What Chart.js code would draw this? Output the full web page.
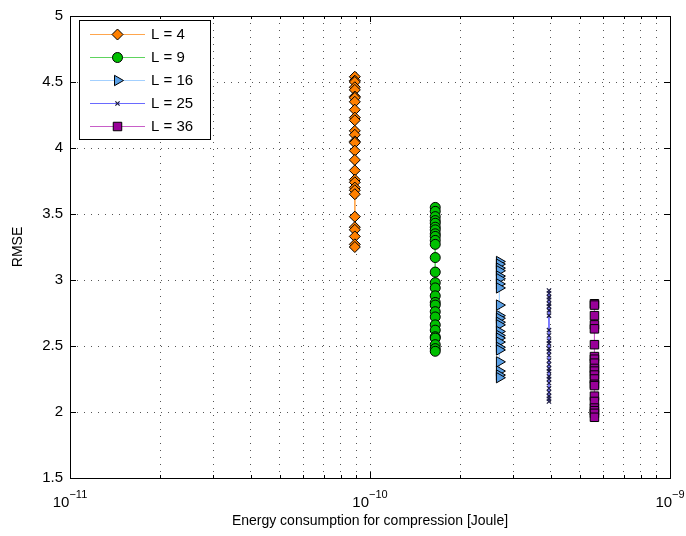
<!DOCTYPE html>
<html>
<head>
<meta charset="utf-8">
<title>RMSE vs energy consumption</title>
<script src="https://cdn.jsdelivr.net/npm/chart.js"></script>
<style>
  html, body { margin: 0; padding: 0; background: #ffffff; }
</style>
</head>
<body>
<canvas id="rmseChart" width="686" height="536"></canvas>
<script>
// ---- data ----
const seriesLabels = ['L = 4', 'L = 9', 'L = 16', 'L = 25', 'L = 36'];
const energyX = [8.9e-11, 1.65e-10, 2.7e-10, 3.95e-10, 5.6e-10];

const rmseL4 = [4.54, 4.51, 4.50, 4.46, 4.44, 4.39, 4.38, 4.35, 4.29, 4.23, 4.21, 4.13, 4.10,
                4.05, 4.04, 3.98, 3.91, 3.83, 3.76, 3.74, 3.70, 3.68, 3.65, 3.48, 3.40, 3.38,
                3.33, 3.27, 3.25];
const rmseL9 = [3.55, 3.52, 3.48, 3.45, 3.43, 3.40, 3.38, 3.35, 3.33, 3.30, 3.27, 3.17, 3.06,
                2.98, 2.94, 2.88, 2.83, 2.81, 2.76, 2.72, 2.66, 2.62, 2.57, 2.56, 2.51, 2.48, 2.46];
const rmseL16 = [3.14, 3.12, 3.09, 3.07, 3.03, 3.01, 2.97, 2.94, 2.81, 2.73, 2.71, 2.68, 2.66,
                 2.61, 2.58, 2.56, 2.53, 2.49, 2.47, 2.38, 2.31, 2.28, 2.26];
const rmseL25 = [2.92, 2.90, 2.87, 2.85, 2.82, 2.80, 2.77, 2.73, 2.62, 2.58, 2.54, 2.52, 2.48,
                 2.46, 2.43, 2.39, 2.36, 2.33, 2.31, 2.27, 2.25, 2.22, 2.18, 2.15, 2.12, 2.10, 2.08];
const rmseL36 = [2.82, 2.81, 2.73, 2.66, 2.63, 2.51, 2.42, 2.40, 2.37, 2.33, 2.31, 2.28, 2.25,
                 2.21, 2.20, 2.12, 2.08, 2.03, 2.01, 1.99, 1.96];

const xTickValues = [1e-11, 2e-11, 3e-11, 4e-11, 5e-11, 6e-11, 7e-11, 8e-11, 9e-11,
                     1e-10, 2e-10, 3e-10, 4e-10, 5e-10, 6e-10, 7e-10, 8e-10, 9e-10, 1e-9];
const xMajorValues = [1e-11, 1e-10, 1e-9];
const xMajorExponents = ['\u221211', '\u221210', '\u22129'];
const yTickValues = [1.5, 2, 2.5, 3, 3.5, 4, 4.5, 5];
const yTickLabels = ['1.5', '2', '2.5', '3', '3.5', '4', '4.5', '5'];

// ---- styles ----
const FONT = "'Liberation Sans', Arial, Helvetica, sans-serif";
const lineColors = ['#ffa64d', '#5ed45e', '#a3d0ff', '#6a6aff', '#c85ec8'];
const markerFill = ['#ff8000', '#00c000', '#5aa0e6', '#1a1a40', '#990099'];
const markerStyle = ['rectRot', 'circle', 'triangle', 'crossRot', 'rect'];
const markerRadius = [5.5, 5, 6, 3, 6];
const markerRotation = [0, 0, 90, 0, 0];
const seriesY = [rmseL4, rmseL9, rmseL16, rmseL25, rmseL36];

const datasets = seriesY.map((ys, i) => ({
    label: seriesLabels[i],
    data: ys.map(y => ({ x: energyX[i], y: y })),
    showLine: true,
    borderColor: lineColors[i],
    borderWidth: 1,
    pointStyle: markerStyle[i],
    pointRadius: markerRadius[i],
    pointRotation: markerRotation[i],
    pointBackgroundColor: markerFill[i],
    pointBorderColor: i === 3 ? '#1a1a40' : '#000000',
    pointBorderWidth: i === 3 ? 1.2 : 1,
    pointHoverRadius: markerRadius[i]
}));

// frame, inward ticks, power-of-ten labels and the boxed legend
const matlabLook = {
    id: 'matlabLook',
    afterDraw(chart) {
        const ctx = chart.ctx;
        const a = chart.chartArea;
        const xs = chart.scales.x, ys = chart.scales.y;
        ctx.save();

        // inward ticks
        ctx.strokeStyle = '#000';
        ctx.lineWidth = 1;
        ctx.beginPath();
        xTickValues.forEach(v => {
            const px = Math.round(xs.getPixelForValue(v)) + 0.5;
            const len = xMajorValues.includes(v) ? 6 : 3;
            ctx.moveTo(px, a.bottom); ctx.lineTo(px, a.bottom - len);
            ctx.moveTo(px, a.top); ctx.lineTo(px, a.top + len);
        });
        yTickValues.forEach(v => {
            const py = Math.round(ys.getPixelForValue(v)) + 0.5;
            ctx.moveTo(a.left, py); ctx.lineTo(a.left + 6, py);
            ctx.moveTo(a.right, py); ctx.lineTo(a.right - 6, py);
        });
        ctx.stroke();

        // box
        ctx.strokeRect(Math.round(a.left) + 0.5, Math.round(a.top) + 0.5,
                       Math.round(a.right - a.left), Math.round(a.bottom - a.top));

        // x labels 10^n
        ctx.fillStyle = '#000';
        ctx.textBaseline = 'alphabetic';
        xMajorValues.forEach((v, i) => {
            const px = xs.getPixelForValue(v);
            ctx.font = '15px ' + FONT;
            const wBase = ctx.measureText('10').width;
            ctx.font = '11px ' + FONT;
            const wExp = ctx.measureText(xMajorExponents[i]).width;
            const left = px - (wBase + wExp) / 2;
            ctx.font = '15px ' + FONT;
            ctx.textAlign = 'left';
            ctx.fillText('10', left, a.bottom + 29);
            ctx.font = '11px ' + FONT;
            ctx.fillText(xMajorExponents[i], left + wBase, a.bottom + 20);
        });

        // legend
        const lx = 79.5, ly = 20.5, lw = 131, lh = 119;
        ctx.fillStyle = '#fff';
        ctx.fillRect(lx, ly, lw, lh);
        ctx.strokeStyle = '#000';
        ctx.strokeRect(lx, ly, lw, lh);
        chart.data.datasets.forEach((ds, i) => {
            const y = 34 + i * 23;
            ctx.strokeStyle = ds.borderColor;
            ctx.lineWidth = 1;
            ctx.beginPath();
            ctx.moveTo(90, y + 0.5); ctx.lineTo(145, y + 0.5);
            ctx.stroke();
            ctx.fillStyle = ds.pointBackgroundColor;
            ctx.strokeStyle = ds.pointBorderColor;
            ctx.lineWidth = ds.pointBorderWidth;
            Chart.helpers.drawPoint(ctx, {
                pointStyle: ds.pointStyle,
                rotation: ds.pointRotation,
                radius: ds.pointRadius,
                borderWidth: ds.pointBorderWidth
            }, 117.5, y + 0.5);
            ctx.fillStyle = '#000';
            ctx.font = '15px ' + FONT;
            ctx.textAlign = 'left';
            ctx.textBaseline = 'middle';
            ctx.fillText(ds.label, 151, y + 1);
        });
        ctx.restore();
    }
};

const gridDash = [1, 6];

new Chart(document.getElementById('rmseChart').getContext('2d'), {
    type: 'scatter',
    data: { datasets: datasets },
    options: {
        responsive: false,
        animation: false,
        layout: { padding: { top: 10, right: 16, left: 0, bottom: 0 } },
        plugins: {
            legend: { display: false },
            tooltip: { enabled: false }
        },
        scales: {
            x: {
                type: 'logarithmic',
                min: 1e-11,
                max: 1e-9,
                afterBuildTicks: scale => { scale.ticks = xTickValues.map(v => ({ value: v })); },
                afterFit: scale => { scale.height = 58; },
                ticks: { callback: () => '', autoSkip: false, maxRotation: 0 },
                grid: { color: '#555555', drawTicks: false, lineWidth: 1 },
                border: { display: false, dash: gridDash },
                title: {
                    display: true,
                    text: 'Energy consumption for compression [Joule]',
                    color: '#000',
                    font: { family: FONT, size: 14 },
                    padding: { top: 0, bottom: 6 }
                }
            },
            y: {
                min: 1.5,
                max: 5,
                afterBuildTicks: scale => { scale.ticks = yTickValues.map(v => ({ value: v })); },
                afterFit: scale => { scale.width = 70; },
                ticks: {
                    color: '#000',
                    font: { family: FONT, size: 15 },
                    padding: 7,
                    callback: (v, idx) => yTickLabels[idx]
                },
                grid: { color: '#555555', drawTicks: false, lineWidth: 1 },
                border: { display: false, dash: gridDash },
                title: {
                    display: true,
                    text: 'RMSE',
                    color: '#000',
                    font: { family: FONT, size: 14 },
                    padding: { top: 10, bottom: 0 }
                }
            }
        }
    },
    plugins: [matlabLook]
});
</script>
</body>
</html>
